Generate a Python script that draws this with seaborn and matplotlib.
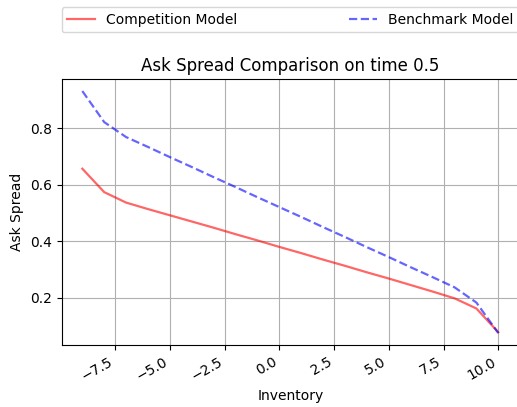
import pandas as pd
import matplotlib
matplotlib.use('Agg')
import matplotlib.pyplot as plt
import seaborn as sns

inventory = list(range(-9, 11))
competition = [0.657, 0.574, 0.537, 0.514, 0.492, 0.470, 0.448, 0.425, 0.403, 0.380,
               0.358, 0.335, 0.313, 0.290, 0.268, 0.245, 0.222, 0.198, 0.162, 0.078]
benchmark = [0.932, 0.822, 0.769, 0.734, 0.698, 0.663, 0.627, 0.592, 0.556, 0.521,
             0.486, 0.450, 0.415, 0.379, 0.344, 0.308, 0.273, 0.237, 0.183, 0.075]

df = pd.DataFrame({'Inventory': inventory, 'Competition Model': competition,
                   'Benchmark Model': benchmark})

fig = plt.figure(figsize=(5.17, 4.07), dpi=100)
# the reference is cropped on the right, so the axes runs a little past the edge
ax = fig.add_axes([0.119, 0.152, 0.885, 0.654])
sns.lineplot(x='Inventory', y='Competition Model', data=df, ax=ax, color='red',
             alpha=0.6, linewidth=1.6, label='Competition Model')
sns.lineplot(x='Inventory', y='Benchmark Model', data=df, ax=ax, color='blue',
             alpha=0.6, linewidth=1.6, linestyle='--', label='Benchmark Model')

ax.set_title('Ask Spread Comparison on time 0.5', fontsize=12)
ax.set_xlabel('Inventory')
ax.set_ylabel('Ask Spread')
ax.set_yticks([0.2, 0.4, 0.6, 0.8])
ax.grid(True)
for lbl in ax.get_xticklabels():
    lbl.set_rotation(30)
    lbl.set_ha('right')

ax.legend(bbox_to_anchor=(0, 1.175, 1, 0.097), loc='lower left', mode='expand',
          ncol=2, borderaxespad=0)

fig.savefig('out.png')
